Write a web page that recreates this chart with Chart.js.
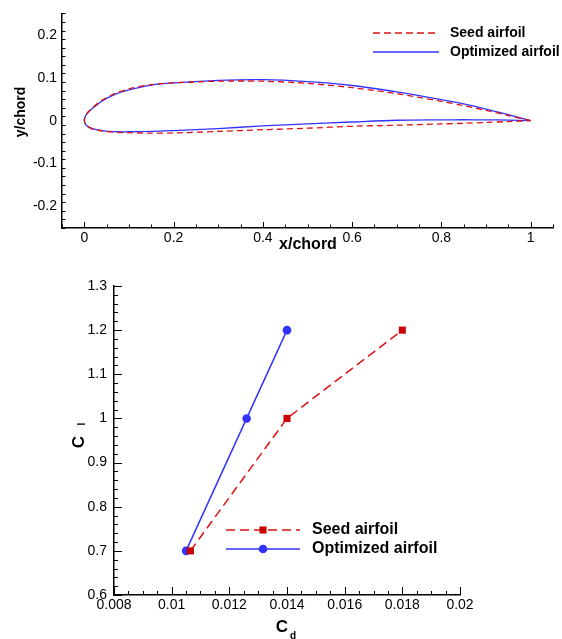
<!DOCTYPE html>
<html>
<head>
<meta charset="utf-8">
<script src="https://cdn.jsdelivr.net/npm/chart.js@4.4.0/dist/chart.umd.min.js"></script>
<style>
  body { margin: 0; background: #fff; }
  #wrap { position: relative; width: 562px; height: 639px; }
  canvas { position: absolute; left: 0; }
  #airfoil { top: 0; }
  #polar { top: 262px; }
</style>
</head>
<body>
<div id="wrap">
  <canvas id="airfoil" width="562" height="262"></canvas>
  <canvas id="polar" width="562" height="377"></canvas>
</div>
<script>
// airfoil shapes (x/chord stations, y/chord)
const stationX  = [0, 0.0025, 0.005, 0.01, 0.02, 0.04, 0.07, 0.1, 0.15, 0.2, 0.3, 0.4, 0.5, 0.6, 0.7, 0.8, 0.85, 0.9, 0.95, 1];
const seedUpper = [0, 0.012, 0.016, 0.022, 0.032, 0.048, 0.064, 0.074, 0.084, 0.088, 0.092, 0.092, 0.087, 0.077, 0.063, 0.045, 0.035, 0.024, 0.012, 0];
const seedLower = [0, -0.008, -0.011, -0.015, -0.02, -0.024, -0.027, -0.028, -0.029, -0.0285, -0.025, -0.021, -0.0175, -0.013, -0.0105, -0.0075, -0.006, -0.004, -0.002, 0];
const optUpper  = [0, 0.011, 0.015, 0.021, 0.03, 0.046, 0.062, 0.072, 0.083, 0.088, 0.094, 0.0955, 0.091, 0.082, 0.067, 0.049, 0.039, 0.027, 0.014, 0];
const optLower  = [0, -0.008, -0.011, -0.015, -0.019, -0.023, -0.0255, -0.0258, -0.025, -0.023, -0.0185, -0.012, -0.0075, -0.003, 0.001, 0.002, 0.0022, 0.002, 0.0015, 0];

// drag polar
const cdSeed = [0.01065, 0.014, 0.018];
const clSeed = [0.7, 1.0, 1.2];
const cdOpt  = [0.0105, 0.0126, 0.014];
const clOpt  = [0.7, 1.0, 1.2];

// tick labels
const topXTicks = [0, 0.2, 0.4, 0.6, 0.8, 1];
const topXLabels = ['0', '0.2', '0.4', '0.6', '0.8', '1'];
const topYTicks = [-0.2, -0.1, 0, 0.1, 0.2];
const topYLabels = ['-0.2', '-0.1', '0', '0.1', '0.2'];
const botXTicks = [0.008, 0.01, 0.012, 0.014, 0.016, 0.018, 0.02];
const botXLabels = ['0.008', '0.01', '0.012', '0.014', '0.016', '0.018', '0.02'];
const botYTicks = [0.6, 0.7, 0.8, 0.9, 1, 1.1, 1.2, 1.3];
const botYLabels = ['0.6', '0.7', '0.8', '0.9', '1', '1.1', '1.2', '1.3'];

const seriesNames = ['Seed airfoil', 'Optimized airfoil'];
const RED = '#dd1111';
const RED_MARK = '#cc0000';
const BLUE = '#3333ff';
const FONT = '"Liberation Sans", Arial, sans-serif';

function outline(upper, lower) {
  const pts = [];
  for (let i = stationX.length - 1; i >= 0; i--) pts.push({ x: stationX[i], y: upper[i] });
  for (let i = 1; i < stationX.length; i++) pts.push({ x: stationX[i], y: lower[i] });
  return pts;
}

function zip(xs, ys) {
  return xs.map((x, i) => ({ x: x, y: ys[i] }));
}

// inward ticks, axis titles and legend
function makeDecor(cfg) {
  return {
    id: 'decor',
    afterDraw(chart) {
      const ctx = chart.ctx;
      const xs = chart.scales.x, ys = chart.scales.y;
      const area = chart.chartArea;
      ctx.save();
      ctx.strokeStyle = '#000';
      ctx.lineWidth = 1;

      let n = Math.round((xs.max - xs.min) / cfg.xMinor);
      for (let i = 0; i <= n; i++) {
        const v = xs.min + i * cfg.xMinor;
        const major = cfg.xMajor.some(t => Math.abs(t - v) < cfg.xMinor / 10);
        const px = Math.round(xs.getPixelForValue(v)) + 0.5;
        ctx.beginPath();
        ctx.moveTo(px, area.bottom);
        ctx.lineTo(px, area.bottom - (major ? cfg.major : cfg.minor));
        ctx.stroke();
      }
      n = Math.round((ys.max - ys.min) / cfg.yMinor);
      for (let i = 0; i <= n; i++) {
        const v = ys.min + i * cfg.yMinor;
        const major = cfg.yMajor.some(t => Math.abs(t - v) < cfg.yMinor / 10);
        const py = Math.round(ys.getPixelForValue(v)) + 0.5;
        ctx.beginPath();
        ctx.moveTo(area.left, py);
        ctx.lineTo(area.left + (major ? cfg.major : cfg.minor), py);
        ctx.stroke();
      }

      // axis titles
      ctx.fillStyle = '#000';
      ctx.textAlign = 'center';
      ctx.textBaseline = 'middle';
      cfg.titles(ctx);

      // legend
      const lg = cfg.legend;
      chart.data.datasets.forEach((ds, i) => {
        const y = lg.y + i * lg.gap;
        ctx.save();
        ctx.strokeStyle = ds.borderColor;
        ctx.lineWidth = ds.borderWidth;
        ctx.setLineDash(ds.borderDash.length ? lg.dash : []);
        ctx.beginPath();
        ctx.moveTo(lg.x0, y);
        ctx.lineTo(lg.x1, y);
        ctx.stroke();
        ctx.restore();
        if (ds.pointRadius > 0) {
          ctx.fillStyle = ds.pointBackgroundColor;
          const mx = (lg.x0 + lg.x1) / 2;
          ctx.beginPath();
          if (ds.pointStyle === 'rect') {
            const s = ds.pointRadius * Math.SQRT1_2;
            ctx.rect(mx - s, y - s, 2 * s, 2 * s);
          } else {
            ctx.arc(mx, y, ds.pointRadius, 0, Math.PI * 2);
          }
          ctx.fill();
        }
        ctx.fillStyle = '#000';
        ctx.font = lg.font;
        ctx.textAlign = 'left';
        ctx.fillText(ds.label, lg.tx, y);
      });
      ctx.restore();
    }
  };
}

function scaleOpts(min, max, ticks, labels, pad, fit) {
  return {
    type: 'linear',
    min: min,
    max: max,
    afterBuildTicks: s => { s.ticks = ticks.map(v => ({ value: v })); },
    afterFit: fit,
    grid: { display: false, drawTicks: false },
    border: { display: true, color: '#000', width: 1.5 },
    ticks: {
      autoSkip: false,
      maxRotation: 0,
      padding: pad,
      color: '#000',
      font: { family: FONT, size: 14 },
      callback: (v, i) => labels[i]
    }
  };
}

new Chart(document.getElementById('airfoil'), {
  type: 'scatter',
  data: {
    datasets: [
      { label: seriesNames[0], data: outline(seedUpper, seedLower), showLine: true, pointRadius: 0,
        borderColor: RED, borderWidth: 1.3, borderDash: [6, 4], tension: 0.3 },
      { label: seriesNames[1], data: outline(optUpper, optLower), showLine: true, pointRadius: 0,
        borderColor: BLUE, borderWidth: 1.3, borderDash: [], tension: 0.3 }
    ]
  },
  options: {
    responsive: false,
    animation: false,
    events: [],
    layout: { padding: { top: 8, right: 9, left: 0, bottom: 0 } },
    plugins: { legend: { display: false }, tooltip: { enabled: false } },
    scales: {
      x: scaleOpts(-0.05, 1.05, topXTicks, topXLabels, 2, s => { s.height = 34; }),
      y: scaleOpts(-0.25, 0.25, topYTicks, topYLabels, 5, s => { s.width = 62; })
    }
  },
  plugins: [makeDecor({
    xMinor: 0.05, xMajor: topXTicks, yMinor: 0.02, yMajor: topYTicks, major: 6, minor: 3.5,
    titles: ctx => {
      ctx.font = 'bold 16px ' + FONT;
      ctx.fillText('x/chord', 308, 245);
      ctx.save();
      ctx.translate(21, 112);
      ctx.rotate(-Math.PI / 2);
      ctx.font = 'bold 14px ' + FONT;
      ctx.fillText('y/chord', 0, 0);
      ctx.restore();
    },
    legend: { x0: 373, x1: 439, tx: 450, y: 33, gap: 19, dash: [7, 4], font: 'bold 14px ' + FONT }
  })]
});

new Chart(document.getElementById('polar'), {
  type: 'scatter',
  data: {
    datasets: [
      { label: seriesNames[0], data: zip(cdSeed, clSeed), showLine: true, pointStyle: 'rect', pointRadius: 5,
        pointBackgroundColor: RED_MARK, pointBorderWidth: 0, borderColor: RED, borderWidth: 1.5, borderDash: [9, 5] },
      { label: seriesNames[1], data: zip(cdOpt, clOpt), showLine: true, pointStyle: 'circle', pointRadius: 4.3,
        pointBackgroundColor: BLUE, pointBorderWidth: 0, borderColor: BLUE, borderWidth: 1.5, borderDash: [] }
    ]
  },
  options: {
    responsive: false,
    animation: false,
    events: [],
    layout: { padding: { top: 24, right: 102, left: 0, bottom: 0 } },
    plugins: { legend: { display: false }, tooltip: { enabled: false } },
    scales: {
      x: scaleOpts(0.008, 0.02, botXTicks, botXLabels, 2, s => { s.height = 44; }),
      y: scaleOpts(0.6, 1.3, botYTicks, botYLabels, 7, s => { s.width = 114; })
    }
  },
  plugins: [makeDecor({
    xMinor: 0.0005, xMajor: botXTicks, yMinor: 0.02, yMajor: botYTicks, major: 8, minor: 4,
    titles: ctx => {
      ctx.font = 'bold 17px ' + FONT;
      ctx.fillText('C', 282, 365);
      ctx.font = 'bold 10px ' + FONT;
      ctx.fillText('d', 293, 374);
      ctx.save();
      ctx.translate(79, 180);
      ctx.rotate(-Math.PI / 2);
      ctx.font = 'bold 17px ' + FONT;
      ctx.fillText('C', 0, 0);
      ctx.font = 'bold 10px ' + FONT;
      ctx.fillText('l', 18, 3);
      ctx.restore();
    },
    legend: { x0: 226, x1: 300, tx: 312, y: 268, gap: 19, dash: [9, 5], font: 'bold 16px ' + FONT }
  })]
});
</script>
</body>
</html>
